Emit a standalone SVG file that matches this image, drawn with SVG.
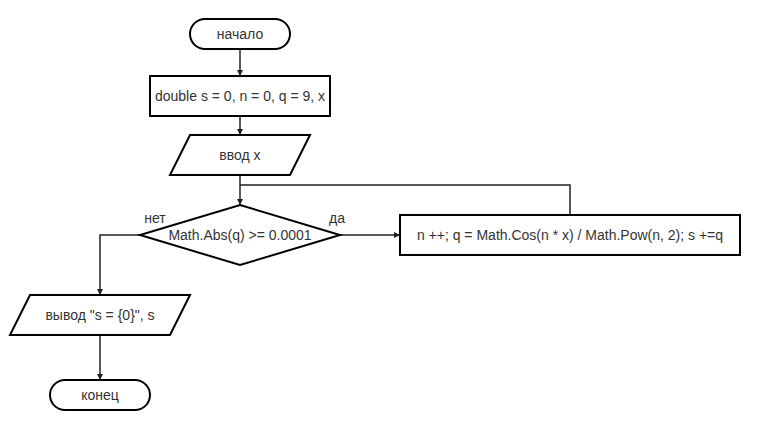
<svg xmlns="http://www.w3.org/2000/svg" width="760" height="430" viewBox="0 0 760 430">
  <style>
    .shape { fill: #ffffff; stroke: #000000; stroke-width: 2; }
    .conn { fill: none; stroke: #222222; stroke-width: 1.5; }
    text { font-family: "Liberation Sans", Arial, sans-serif; font-size: 14px; fill: #333333; }
    .c { text-anchor: middle; dominant-baseline: central; }
  </style>
  <defs>
    <marker id="arrow" viewBox="0 0 10 10" refX="10" refY="5" markerWidth="4" markerHeight="4" orient="auto" markerUnits="strokeWidth">
      <path d="M0,0 L10,5 L0,10 z" fill="#222222"/>
    </marker>
  </defs>
  <rect width="760" height="430" fill="#ffffff"/>

  <g id="connectors">
    <path class="conn" d="M240,49 L240,76" marker-end="url(#arrow)"/>
    <path class="conn" d="M240,116 L240,135" marker-end="url(#arrow)"/>
    <path class="conn" d="M240,175 L240,205" marker-end="url(#arrow)"/>
    <path class="conn" d="M570,215 L570,185 L240,185"/>
    <path class="conn" d="M340,235 L400,235" marker-end="url(#arrow)"/>
    <path class="conn" d="M140,235 L100,235 L100,295" marker-end="url(#arrow)"/>
    <path class="conn" d="M100,335 L100,380" marker-end="url(#arrow)"/>
  </g>

  <g id="start">
    <rect class="shape" x="190" y="19" width="100" height="30" rx="15" ry="15"/>
    <text class="c" x="240" y="34">начало</text>
  </g>
  <g id="init">
    <rect class="shape" x="150" y="76" width="180" height="40"/>
    <text class="c" x="240" y="96">double s = 0, n = 0, q = 9, x</text>
  </g>
  <g id="input">
    <polygon class="shape" points="190,135 310,135 290,175 170,175"/>
    <text class="c" x="240" y="155">ввод x</text>
  </g>
  <g id="condition">
    <polygon class="shape" points="240,205 340,235 240,265 140,235"/>
    <text class="c" x="240" y="235">Math.Abs(q) &gt;= 0.0001</text>
    <text x="155" y="223" text-anchor="middle">нет</text>
    <text x="337" y="223" text-anchor="middle">да</text>
  </g>
  <g id="body">
    <rect class="shape" x="400" y="215" width="340" height="40"/>
    <text class="c" x="570" y="235">n ++; q = Math.Cos(n * x) / Math.Pow(n, 2); s +=q</text>
  </g>
  <g id="output">
    <polygon class="shape" points="30,295 190,295 170,335 10,335"/>
    <text class="c" x="100" y="315">вывод "s = {0}", s</text>
  </g>
  <g id="end">
    <rect class="shape" x="50" y="380" width="100" height="30" rx="15" ry="15"/>
    <text class="c" x="100" y="395">конец</text>
  </g>
</svg>
